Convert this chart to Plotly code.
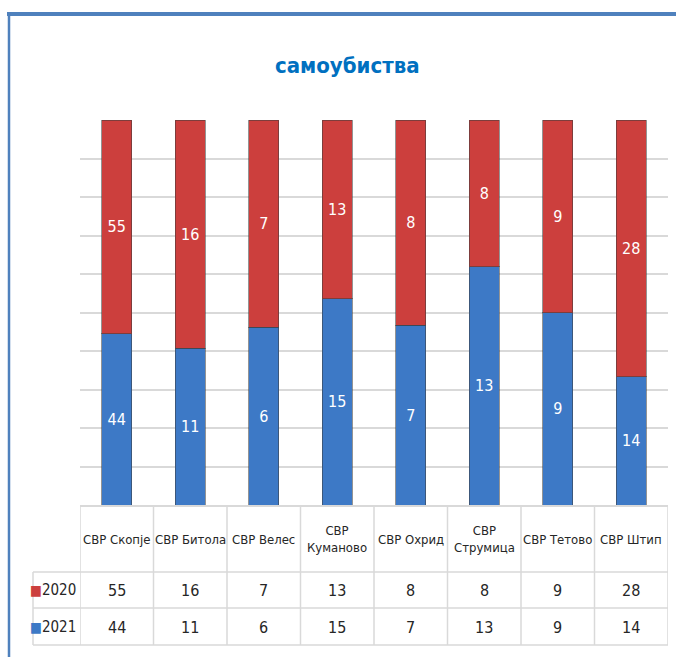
import plotly.graph_objects as go

categories = ["СВР Скопје", "СВР Битола", "СВР Велес", "СВР Куманово",
              "СВР Охрид", "СВР Струмица", "СВР Тетово", "СВР Штип"]
header_labels = ["СВР Скопје", "СВР Битола", "СВР Велес", "СВР<br>Куманово",
                 "СВР Охрид", "СВР<br>Струмица", "СВР Тетово", "СВР Штип"]
series_names = ["2020", "2021"]
values_2020 = [55, 16, 7, 13, 8, 8, 9, 28]
values_2021 = [44, 11, 6, 15, 7, 13, 9, 14]
title_text = "самоубиства"

RED = "#CC3F3D"
BLUE = "#3D79C6"
NARROW = "DejaVu Sans Condensed, Liberation Sans Narrow, sans-serif"

W, H = 676, 657
def px_x(p):
    return p / W
def px_y(p):
    return (H - p) / H

x0p, x1p = px_x(80), px_x(668)
y_top, y_bot = px_y(120), px_y(505)

fig = go.Figure()
idx = list(range(len(categories)))
fig.add_trace(go.Bar(
    x=idx, y=values_2021, name=series_names[1],
    marker=dict(color=BLUE, line=dict(color="rgba(60,60,60,0.55)", width=1)),
    text=[str(v) for v in values_2021], textposition="inside",
    insidetextanchor="middle",
    textfont=dict(color="white", size=16, family=NARROW),
    width=0.41, hoverinfo="skip",
))
fig.add_trace(go.Bar(
    x=idx, y=values_2020, name=series_names[0],
    marker=dict(color=RED, line=dict(color="rgba(60,60,60,0.55)", width=1)),
    text=[str(v) for v in values_2020], textposition="inside",
    insidetextanchor="middle",
    textfont=dict(color="white", size=16, family=NARROW),
    width=0.41, hoverinfo="skip",
))

shapes = []
annotations = []

# frame
shapes.append(dict(type="line", xref="paper", yref="paper",
                   x0=px_x(7), x1=1.0, y0=px_y(14), y1=px_y(14),
                   line=dict(color="#4F81BD", width=4)))
shapes.append(dict(type="line", xref="paper", yref="paper",
                   x0=px_x(9), x1=px_x(9), y0=px_y(12), y1=0,
                   line=dict(color="#4F81BD", width=2.5)))

# table geometry
row_lines = [px_y(572), px_y(608), px_y(645)]
table_bottom = px_y(645)
legend_left = px_x(33)
grid_col = "#D9D9D9"

for k in range(len(categories) + 1):
    shapes.append(dict(type="line", xref="x", yref="paper",
                       x0=k - 0.5, x1=k - 0.5, y0=table_bottom, y1=y_bot,
                       line=dict(color=grid_col, width=1.5)))
shapes.append(dict(type="line", xref="paper", yref="paper",
                   x0=legend_left, x1=legend_left, y0=table_bottom, y1=row_lines[0],
                   line=dict(color=grid_col, width=1.5)))
for yl in row_lines:
    shapes.append(dict(type="line", xref="paper", yref="paper",
                       x0=legend_left, x1=x1p, y0=yl, y1=yl,
                       line=dict(color=grid_col, width=1.5)))

header_y = px_y(539)
row_y = [px_y(590), px_y(627)]
for i, lab in enumerate(header_labels):
    annotations.append(dict(x=i, y=header_y, xref="x", yref="paper", text=lab,
                            yanchor="middle", xanchor="center",
                            showarrow=False, font=dict(size=13, color="#262626", family=NARROW),
                            align="center"))
for r, vals in enumerate([values_2020, values_2021]):
    for i, v in enumerate(vals):
        annotations.append(dict(x=i, y=row_y[r], xref="x", yref="paper", text=str(v),
                                yanchor="middle", xanchor="center",
                                showarrow=False, font=dict(size=16, color="#262626", family=NARROW)))
for r, (nm, col) in enumerate([(series_names[0], RED), (series_names[1], BLUE)]):
    annotations.append(dict(x=px_x(78), y=row_y[r], xref="paper", yref="paper",
                            xanchor="right", yanchor="middle",
                            text=f"<span style='color:{col};font-size:14px'>■</span>{nm}",
                            showarrow=False, font=dict(size=15, color="#262626", family=NARROW)))

annotations.append(dict(x=px_x(347), y=px_y(65), xref="paper", yref="paper",
                        xanchor="center", yanchor="middle",
                        text=f"<b>{title_text}</b>", showarrow=False,
                        font=dict(size=22, color="#0070C0", family=NARROW)))

fig.update_layout(
    width=W, height=H, margin=dict(l=0, r=0, t=0, b=0),
    paper_bgcolor="white", plot_bgcolor="white",
    barmode="stack", barnorm="percent", showlegend=False,
    shapes=shapes, annotations=annotations, hovermode=False,
    xaxis=dict(domain=[x0p, x1p], range=[-0.5, 7.5], showticklabels=False,
               showgrid=False, zeroline=False, showline=True, linecolor=grid_col,
               linewidth=1.5, fixedrange=True),
    yaxis=dict(domain=[y_bot, y_top], range=[0, 100], dtick=10, showticklabels=False,
               showgrid=True, gridcolor=grid_col, gridwidth=1.5, zeroline=False,
               fixedrange=True),
)

fig.write_html("out.html", config={"displayModeBar": False},
               post_script="document.body.style.margin='0px';document.body.style.overflow='hidden';")
